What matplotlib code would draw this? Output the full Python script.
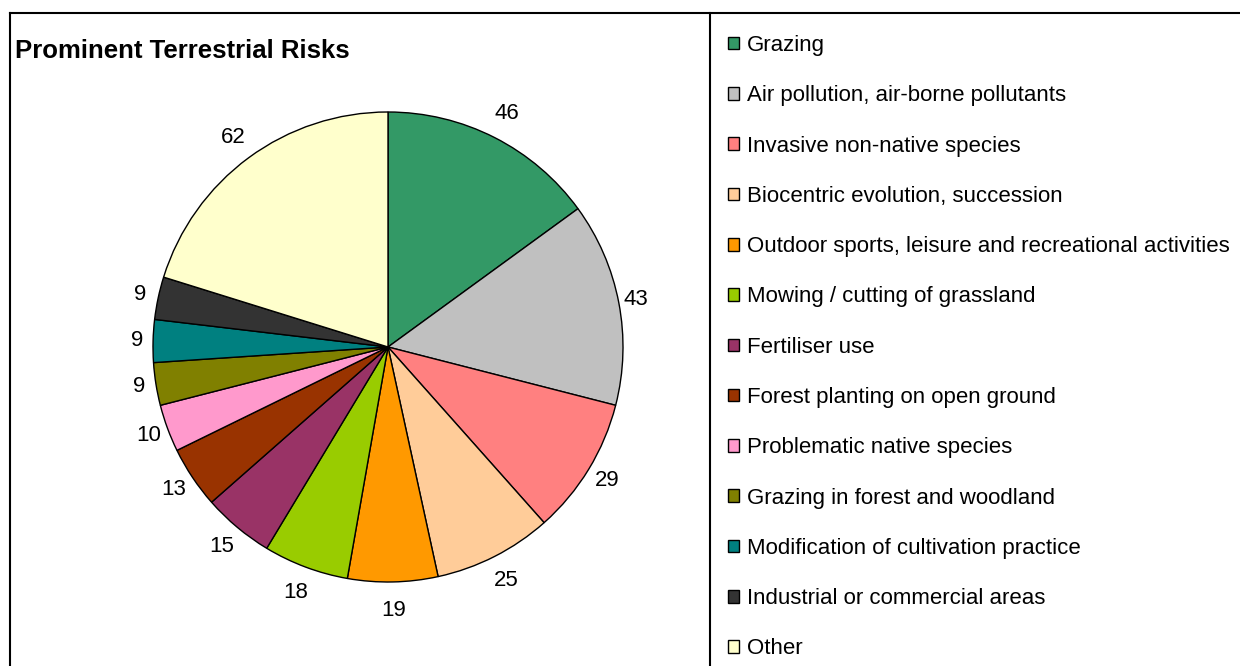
import numpy as np
import matplotlib
matplotlib.use("Agg")
import matplotlib.pyplot as plt
from matplotlib.lines import Line2D

plt.rcParams['font.family'] = ['Liberation Sans', 'DejaVu Sans']

categories = [
    "Grazing",
    "Air pollution, air-borne pollutants",
    "Invasive non-native species",
    "Biocentric evolution, succession",
    "Outdoor sports, leisure and recreational activities",
    "Mowing / cutting of grassland",
    "Fertiliser use",
    "Forest planting on open ground",
    "Problematic native species",
    "Grazing in forest and woodland",
    "Modification of cultivation practice",
    "Industrial or commercial areas",
    "Other",
]
values = [46, 43, 29, 25, 19, 18, 15, 13, 10, 9, 9, 9, 62]
colors = ["#339966", "#C0C0C0", "#FF8080", "#FFCC99", "#FF9900", "#99CC00",
          "#993366", "#993300", "#FF99CC", "#808000", "#008080", "#333333",
          "#FFFFCC"]
title = "Prominent Terrestrial Risks"

W, H = 1240, 666
fig = plt.figure(figsize=(W / 100, H / 100), dpi=100)

cx, cy, R = 388, 347, 235
ax = fig.add_axes([(cx - R) / W, (H - cy - R) / H, 2 * R / W, 2 * R / H])
wedges, _ = ax.pie(values, colors=colors, startangle=90, counterclock=False,
                   radius=1.0,
                   wedgeprops=dict(edgecolor="black", linewidth=1.0))
ax.set_xlim(-1, 1)
ax.set_ylim(-1, 1)
ax.set_aspect("equal")
ax.axis("off")

for w, v in zip(wedges, values):
    ang = np.deg2rad((w.theta1 + w.theta2) / 2)
    r = 1.065 + 0.055 * abs(np.sin(ang))
    ax.text(r * np.cos(ang), r * np.sin(ang), str(v), ha="center", va="center",
            fontsize=16, color="black", clip_on=False)

fig.text(15 / W, 1 - 51 / H, title, ha="left", va="center", fontsize=18.5,
         fontweight="bold")

leg = fig.legend(wedges, categories, loc="upper left",
                 bbox_to_anchor=(728 / W, 1 - 35 / H), frameon=False,
                 fontsize=16, handlelength=0.5, handleheight=0.5,
                 handletextpad=0.35, labelspacing=1.318, borderpad=0,
                 borderaxespad=0)
for h in leg.legend_handles:
    h.set_edgecolor("black")
    h.set_linewidth(1.0)

lw = 1.5
fig.add_artist(Line2D([9.5 / W, 1.0], [1 - 13 / H, 1 - 13 / H], color="black",
                      lw=lw, transform=fig.transFigure))
fig.add_artist(Line2D([9.5 / W, 9.5 / W], [0, 1 - 13 / H], color="black",
                      lw=lw, transform=fig.transFigure))
fig.add_artist(Line2D([710 / W, 710 / W], [0, 1 - 13 / H], color="black",
                      lw=lw, transform=fig.transFigure))

fig.savefig("out.png", dpi=100)
